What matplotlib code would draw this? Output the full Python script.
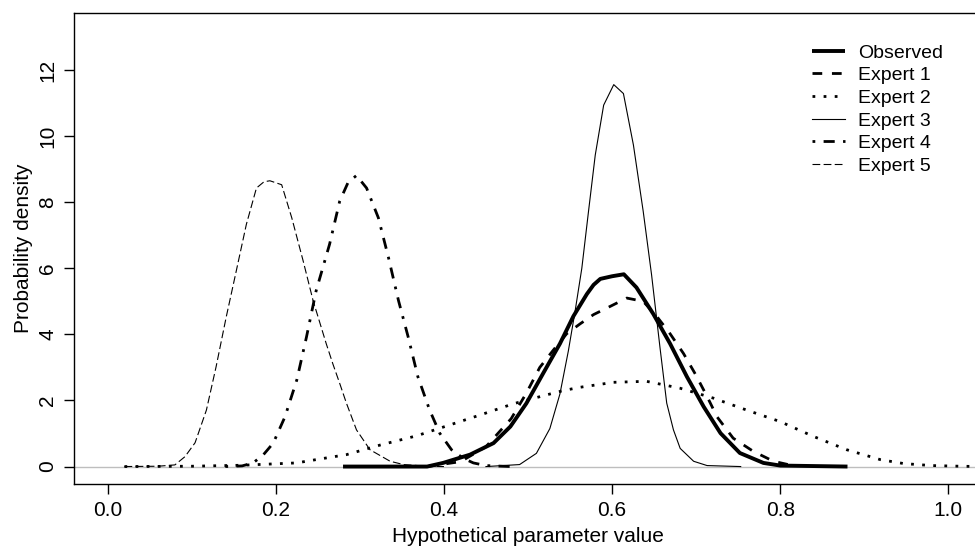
import matplotlib.pyplot as plt

plt.rcParams['font.family'] = ['Liberation Sans', 'DejaVu Sans']

# density curves read as (x, density) pairs
obs_x = [0.28, 0.38, 0.399, 0.431, 0.459, 0.479, 0.498, 0.518, 0.538, 0.554, 0.570, 0.578, 0.586,
         0.600, 0.614, 0.629, 0.649, 0.669, 0.689, 0.709, 0.729, 0.752, 0.780, 0.800, 0.880]
obs_y = [0, 0, 0.11, 0.36, 0.71, 1.21, 1.91, 2.82, 3.72, 4.55, 5.22, 5.5, 5.68,
         5.76, 5.82, 5.42, 4.62, 3.72, 2.72, 1.81, 1.01, 0.41, 0.11, 0.03, 0]

exp1_x = [0.38, 0.42, 0.45, 0.48, 0.498, 0.514, 0.530, 0.546, 0.562, 0.578, 0.594, 0.6175, 0.637,
          0.653, 0.669, 0.685, 0.699, 0.713, 0.725, 0.744, 0.768, 0.792, 0.82]
exp1_y = [0, 0.15, 0.6, 1.45, 2.22, 3.0, 3.52, 4.02, 4.32, 4.6, 4.8, 5.1, 5.0,
          4.55, 4.02, 3.42, 2.8, 2.12, 1.5, 0.86, 0.46, 0.16, 0]

exp2_x = [0.02, 0.10, 0.16, 0.2246, 0.248, 0.284, 0.324, 0.3675, 0.407, 0.443, 0.4825, 0.5222, 0.542,
          0.562, 0.594, 0.6016, 0.641, 0.681, 0.7206, 0.760, 0.80, 0.8397, 0.879, 0.919, 0.947,
          0.98, 1.014, 1.04]
exp2_y = [0, 0.01, 0.04, 0.11, 0.21, 0.36, 0.65, 0.93, 1.26, 1.56, 1.9, 2.17, 2.3,
          2.4, 2.52, 2.55, 2.58, 2.37, 2.07, 1.71, 1.36, 0.91, 0.51, 0.21, 0.09,
          0.03, 0.01, 0]

exp3_x = [0.45, 0.49, 0.510, 0.526, 0.538, 0.548, 0.556, 0.564, 0.572, 0.580, 0.590, 0.602, 0.6135,
          0.6254, 0.637, 0.647, 0.657, 0.665, 0.673, 0.681, 0.697, 0.713, 0.753]
exp3_y = [0, 0.06, 0.4, 1.15, 2.2, 3.5, 4.7, 6.0, 7.73, 9.43, 10.94, 11.56, 11.29,
          9.73, 7.73, 5.8, 3.6, 1.92, 1.11, 0.55, 0.16, 0.03, 0]

exp4_x = [0.14, 0.16, 0.173, 0.185, 0.197, 0.211, 0.225, 0.2365, 0.248, 0.264, 0.276, 0.286, 0.296,
          0.308, 0.322, 0.334, 0.346, 0.3575, 0.369, 0.383, 0.395, 0.409, 0.423, 0.435, 0.45, 0.48]
exp4_y = [0, 0.02, 0.11, 0.35, 0.71, 1.51, 2.62, 3.92, 5.32, 6.73, 8.03, 8.6, 8.81,
          8.43, 7.53, 6.33, 5.02, 3.92, 2.72, 1.71, 1.01, 0.51, 0.25, 0.11, 0.03, 0]

exp5_x = [0.02, 0.06, 0.08, 0.092, 0.104, 0.1175, 0.129, 0.141, 0.153, 0.165, 0.177, 0.186, 0.193,
          0.207, 0.219, 0.2325, 0.2444, 0.26, 0.268, 0.276, 0.284, 0.296, 0.312, 0.336, 0.352,
          0.38, 0.40]
exp5_y = [0, 0.01, 0.05, 0.3, 0.72, 1.71, 3.02, 4.52, 5.92, 7.33, 8.43, 8.62, 8.65,
          8.53, 7.53, 6.23, 5.02, 3.72, 3.1, 2.52, 1.92, 1.11, 0.51, 0.16, 0.06,
          0.01, 0]

x_ticks = [0.0, 0.2, 0.4, 0.6, 0.8, 1.0]
y_ticks = [0, 2, 4, 6, 8, 10, 12]

fig = plt.figure(figsize=(9.75, 5.54), dpi=100)
# axes box runs past the right edge of the figure
ax = fig.add_axes([74 / 975, 70 / 554, 908 / 975, 471 / 554])

ax.axhline(0, color='#bebebe', lw=1.0, zorder=1)

ax.plot(obs_x, obs_y, color='black', lw=2.8, solid_capstyle='butt', label='Observed')
ax.plot(exp1_x, exp1_y, color='black', lw=2.0, linestyle=(0, (3.5, 3.5)), label='Expert 1')
ax.plot(exp2_x, exp2_y, color='black', lw=2.0, linestyle=(0, (1, 3)), label='Expert 2')
ax.plot(exp3_x, exp3_y, color='black', lw=0.8, label='Expert 3')
ax.plot(exp4_x, exp4_y, color='black', lw=2.0, linestyle=(0, (1, 3, 4, 3)), label='Expert 4')
ax.plot(exp5_x, exp5_y, color='black', lw=0.8, linestyle=(0, (7, 3)), label='Expert 5')

ax.set_xlim(-0.04, 1.04)
ax.set_ylim(-0.528, 13.728)

ax.set_xticks(x_ticks)
ax.set_xticklabels(['%.1f' % v for v in x_ticks])
ax.set_yticks(y_ticks)
ax.set_yticklabels([str(v) for v in y_ticks], rotation=90, va='center')
ax.tick_params(direction='out', length=7, width=1, labelsize=15, pad=5)

for sp in ax.spines.values():
    sp.set_linewidth(1.0)

ax.set_xlabel('Hypothetical parameter value', fontsize=15, labelpad=5)
ax.set_ylabel('Probability density', fontsize=15, labelpad=4)

leg = ax.legend(loc='upper left', bbox_to_anchor=(812 / 975, 1 - 44 / 554),
                bbox_transform=fig.transFigure, frameon=False, fontsize=14,
                handlelength=1.7, handletextpad=0.65, labelspacing=0.26, borderpad=0,
                borderaxespad=0)

fig.savefig('out.png', dpi=100)
